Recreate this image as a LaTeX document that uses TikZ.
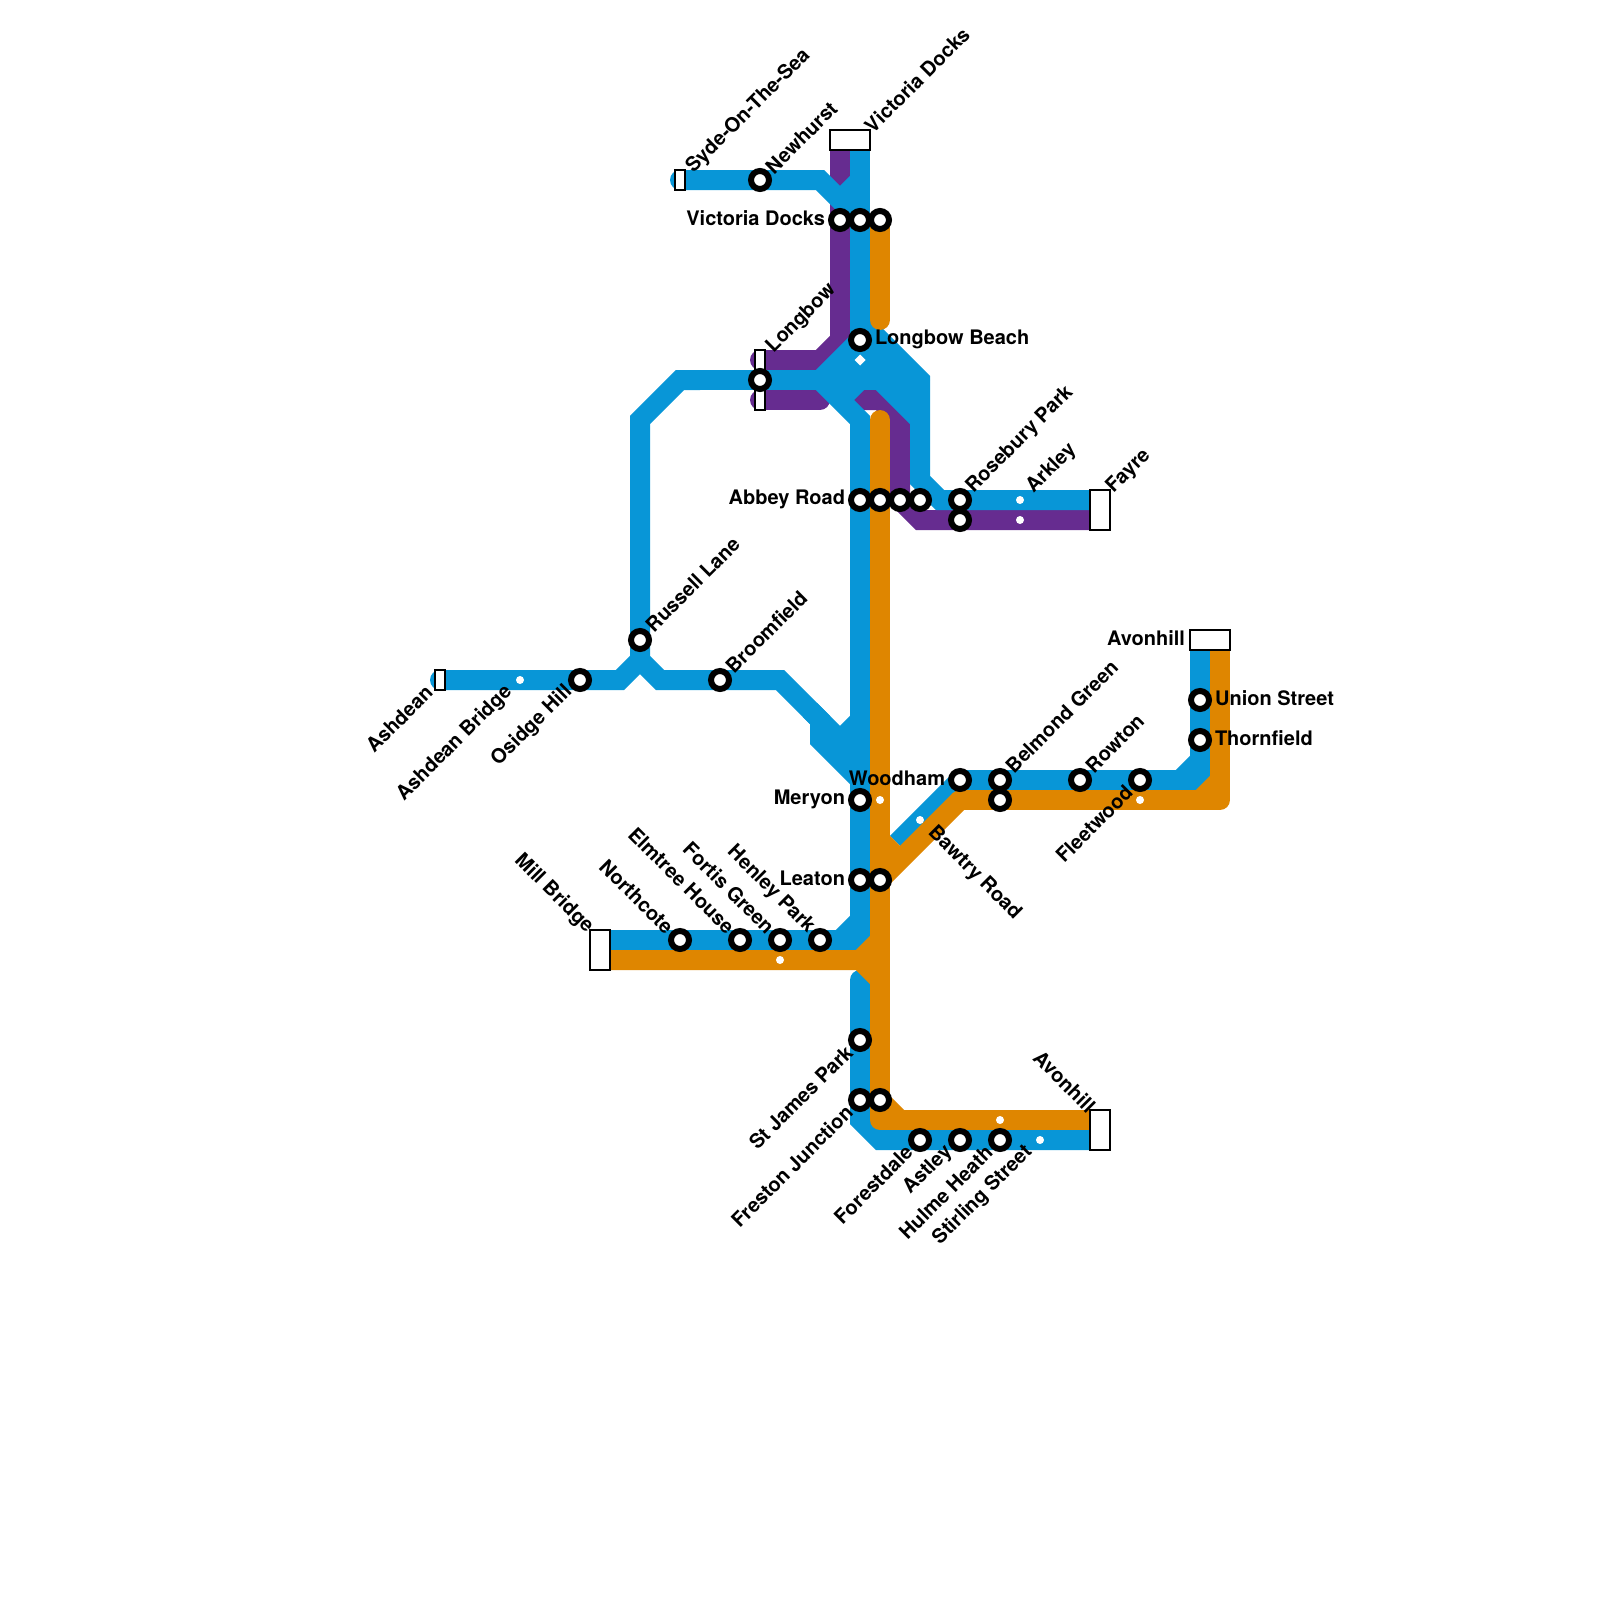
\documentclass[tikz,border=0pt]{standalone}
\usepackage{fontspec}
\setmainfont{TeX Gyre Heros}
\definecolor{lblue}{HTML}{0896D7}
\definecolor{lpurple}{HTML}{662C90}
\definecolor{lorange}{HTML}{DF8600}
\tikzset{
  ln/.style={line width=20pt,line join=miter},
  rln/.style={line width=20pt,line cap=round,line join=round},
  stn/.style={circle,draw=black,fill=white,line width=6pt,minimum size=18pt,inner sep=0pt,outer sep=0pt},
  dotm/.style={circle,fill=white,minimum size=8pt,inner sep=0pt,outer sep=0pt},
  term/.style={draw=black,fill=white,line width=2pt,inner sep=0pt,outer sep=0pt,rectangle},
  lbl/.style={inner sep=0pt,outer sep=0pt,font=\fontsize{20}{24}\selectfont\bfseries,text=black},
  ur/.style={lbl,rotate=45,anchor=west},
  ue/.style={lbl,rotate=45,anchor=east},
  de/.style={lbl,rotate=-45,anchor=east},
  ds/.style={lbl,rotate=-45,anchor=west},
}
\begin{document}
\begin{tikzpicture}[x=1pt,y=-1pt]
\useasboundingbox (0,0) rectangle (1600,1600);
% purple
\draw[ln,lpurple] (840,150)--(840,340)--(820,360)--(760,360);
\draw[rln,lpurple] (760,360)--(765,360);
\draw[rln,lpurple] (760,400)--(820,400);
\draw[ln,lpurple] (840,400)--(880,400)--(900,420)--(900,500)--(920,520)--(1100,520);
% blue
\draw[ln,lblue] (860,150)--(860,340);
\draw[rln,lblue] (680,180)--(685,180);
\draw[ln,lblue] (680,180)--(820,180)--(860,220);
\draw[ln,lblue] (840,200)--(860,180);
\fill[lblue] (860,330)--(930,380)--(820,380)--cycle;
\fill[lblue] (870,375)--(920,375)--(920,420)--cycle;
\draw[ln,lblue] (690,380)--(920,380);
\draw[ln,lblue] (820,380)--(860,340);
\draw[ln,lblue] (860,320)--(920,380)--(920,480)--(940,500)--(1100,500);
\draw[ln,lblue] (860,360)--(920,420);
\draw[ln,lblue] (840,400)--(860,380);
\draw[ln,lblue] (820,380)--(860,420)--(860,920)--(840,940)--(600,940);
\fill[lblue] (840,950)--(870,950)--(870,920)--cycle;
\draw[ln,lblue] (700,380)--(680,380)--(640,420)--(640,660)--(660,680)--(780,680)--(820,720)--(820,740)--(860,780);
\draw[ln,lblue] (810,710)--(840,740);
\draw[ln,lblue] (830,750)--(860,720);
\fill[lblue] (835,735)--(860,720)--(860,780)--(825,745)--cycle;
\draw[rln,lblue] (440,680)--(445,680);
\draw[ln,lblue] (440,680)--(620,680)--(640,660);
\draw[ln,lblue] (897,843)--(960,780)--(1180,780)--(1200,760)--(1200,640);
\fill[lblue] (1180,790)--(1210,790)--(1210,760)--cycle;
\draw[rln,lblue] (860,980)--(860,1000);
\draw[ln,lblue] (860,980)--(860,1120)--(880,1140)--(1100,1140);
% orange
\draw[rln,lorange] (880,220)--(880,320);
\draw[rln,lorange] (880,420)--(880,1120)--(1095,1120);
\draw[ln,lorange] (880,1100)--(900,1120);
\draw[ln,lorange] (600,960)--(860,960)--(880,940);
\draw[ln,lorange] (860,960)--(880,980);
\draw[ln,lorange] (880,880)--(960,800);
\draw[ln,lorange] (880,840)--(900,860);
\draw[rln,lorange] (960,800)--(1220,800)--(1220,645);
\draw[ln,lorange] (1220,640)--(1220,660);
\draw[ln,lorange] (1200,800)--(1220,780);
% white dots
\node[dotm] (dA) at (520,680) {};
\node[dotm] (dB) at (1020,500) {};
\node[dotm] (dC) at (1020,520) {};
\node[dotm] (dD) at (880,800) {};
\node[dotm] (dE) at (920,820) {};
\node[dotm] (dF) at (1140,800) {};
\node[dotm] (dG) at (780,960) {};
\node[dotm] (dH) at (1000,1120) {};
\node[dotm] (dI) at (1040,1140) {};
\fill[white] (860,354.5)--(865.5,360)--(860,365.5)--(854.5,360)--cycle;
% terminals
\node[term,minimum width=10pt,minimum height=20pt] (tSyde) at (680,180) {};
\node[term,minimum width=40pt,minimum height=20pt] (tVic) at (850,140) {};
\node[term,minimum width=10pt,minimum height=20pt] (tLongA) at (760,360) {};
\node[term,minimum width=10pt,minimum height=20pt] (tLongB) at (760,400) {};
\node[term,minimum width=20pt,minimum height=40pt] (tFayre) at (1100,510) {};
\node[term,minimum width=10pt,minimum height=20pt] (tAsh) at (440,680) {};
\node[term,minimum width=40pt,minimum height=20pt] (tAvonA) at (1210,640) {};
\node[term,minimum width=20pt,minimum height=40pt] (tMill) at (600,950) {};
\node[term,minimum width=20pt,minimum height=40pt] (tAvonB) at (1100,1130) {};
% stations
\node[stn] (sNew) at (760,180) {};
\node[stn] (sVa) at (840,220) {};
\node[stn] (sVb) at (860,220) {};
\node[stn] (sVc) at (880,220) {};
\node[stn] (sLB) at (860,340) {};
\node[stn] (sL) at (760,380) {};
\node[stn] (sAa) at (860,500) {};
\node[stn] (sAb) at (880,500) {};
\node[stn] (sAc) at (900,500) {};
\node[stn] (sAd) at (920,500) {};
\node[stn] (sRa) at (960,500) {};
\node[stn] (sRb) at (960,520) {};
\node[stn] (sRus) at (640,640) {};
\node[stn] (sOs) at (580,680) {};
\node[stn] (sBr) at (720,680) {};
\node[stn] (sMe) at (860,800) {};
\node[stn] (sLa) at (860,880) {};
\node[stn] (sLb) at (880,880) {};
\node[stn] (sWo) at (960,780) {};
\node[stn] (sBa) at (1000,780) {};
\node[stn] (sBb) at (1000,800) {};
\node[stn] (sRo) at (1080,780) {};
\node[stn] (sFl) at (1140,780) {};
\node[stn] (sUn) at (1200,700) {};
\node[stn] (sTh) at (1200,740) {};
\node[stn] (sNo) at (680,940) {};
\node[stn] (sEl) at (740,940) {};
\node[stn] (sFo) at (780,940) {};
\node[stn] (sHe) at (820,940) {};
\node[stn] (sSt) at (860,1040) {};
\node[stn] (sFa) at (860,1100) {};
\node[stn] (sFb) at (880,1100) {};
\node[stn] (sFd) at (920,1140) {};
\node[stn] (sAs) at (960,1140) {};
\node[stn] (sHu) at (1000,1140) {};
% labels
\node[ur] (lSyde) at (690,170) {Syde-On-The-Sea};
\node[ur] (lNew) at (769,170) {Newhurst};
\node[ur] (lVicT) at (868,129) {Victoria Docks};
\node[lbl,anchor=east] (lVicL) at (825,218) {Victoria Docks};
\node[ur] (lLong) at (770,350) {Longbow};
\node[lbl,anchor=west] (lLB) at (875,339) {Longbow Beach};
\node[lbl,anchor=east] (lAb) at (845,499) {Abbey Road};
\node[ur] (lRos) at (970,490) {Rosebury Park};
\node[ur] (lArk) at (1030,490) {Arkley};
\node[ur] (lFay) at (1110,490) {Fayre};
\node[ur] (lRus) at (649,628) {Russell Lane};
\node[ur] (lBro) at (729,669) {Broomfield};
\node[ue] (lAsh) at (429,689) {Ashdean};
\node[ue] (lAshB) at (509,689) {Ashdean Bridge};
\node[ue] (lOs) at (569,689) {Osidge Hill};
\node[lbl,anchor=east] (lMe) at (845,799) {Meryon};
\node[lbl,anchor=east] (lLe) at (845,878) {Leaton};
\node[lbl,anchor=east] (lWo) at (945,778) {Woodham};
\node[ds] (lBaw) at (931,830) {Bawtry Road};
\node[ur] (lBel) at (1009,769) {Belmond Green};
\node[ur] (lRow) at (1089,769) {Rowton};
\node[ue] (lFl) at (1129,789) {Fleetwood};
\node[lbl,anchor=east] (lAvA) at (1185,638) {Avonhill};
\node[lbl,anchor=west] (lUn) at (1215,698) {Union Street};
\node[lbl,anchor=west] (lTh) at (1215,738) {Thornfield};
\node[de] (lMill) at (590,930) {Mill Bridge};
\node[de] (lNo) at (670,930) {Northcote};
\node[de] (lEl) at (731,930) {Elmtree House};
\node[de] (lFo) at (771,930) {Fortis Green};
\node[de] (lHe) at (811,930) {Henley Park};
\node[ue] (lSt) at (849,1049) {St James Park};
\node[ue] (lFr) at (849,1109) {Freston Junction};
\node[ue] (lFd) at (909,1149) {Forestdale};
\node[ue] (lAs) at (949,1149) {Astley};
\node[ue] (lHu) at (989,1149) {Hulme Heath};
\node[ue] (lSti) at (1029,1149) {Stirling Street};
\node[de] (lAvB) at (1092,1109) {Avonhill};
\end{tikzpicture}
\end{document}
